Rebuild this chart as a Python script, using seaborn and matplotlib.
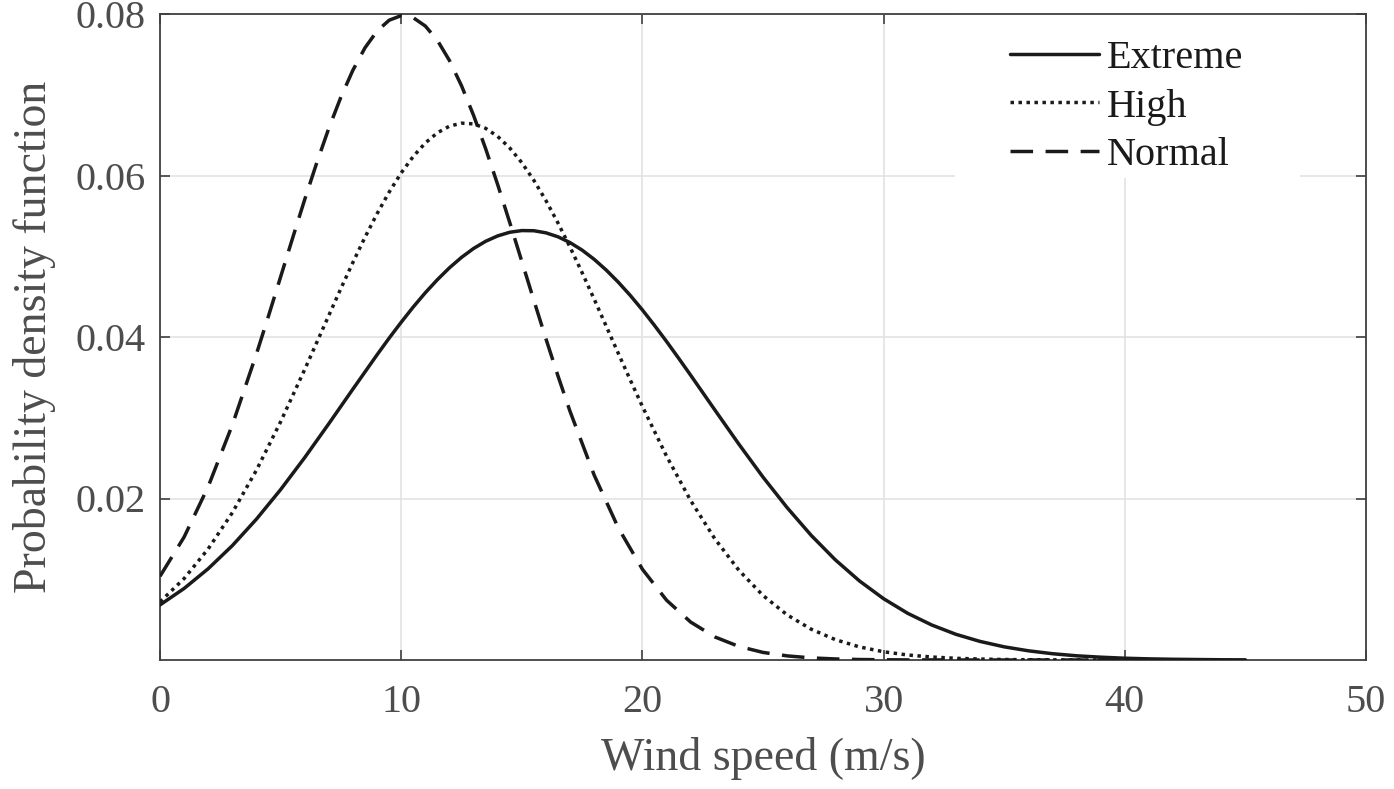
import pandas as pd
import seaborn as sns
import matplotlib.pyplot as plt
from matplotlib.patches import Rectangle

#################### Data ####################

wind_extreme = [0, 1, 2, 3, 4, 5, 6, 7, 8, 9,
                9.5, 10, 10.5, 11, 11.5, 12, 12.5, 13, 13.5, 14, 14.5, 15, 15.5,
                16, 16.5, 17, 17.5, 18, 18.5, 19, 19.5, 20, 20.5, 21, 21.5,
                22, 23, 24, 25, 26, 27, 28, 29, 30, 31, 32, 33, 34, 35, 36, 37,
                38, 39, 40, 41, 42, 43, 44, 45]
pdf_extreme = [0.00682, 0.00886, 0.01131, 0.01417, 0.01745, 0.02110, 0.02507, 0.02927,
               0.03356, 0.03780,
               0.03986, 0.04183, 0.04372, 0.04548, 0.04710, 0.04857, 0.04986, 0.05096,
               0.05185, 0.05252, 0.05297, 0.05318, 0.05316, 0.05290, 0.05241, 0.05169,
               0.05076, 0.04962, 0.04829, 0.04679, 0.04514, 0.04335, 0.04144, 0.03945,
               0.03738,
               0.03527, 0.03098, 0.02673, 0.02265, 0.01887, 0.01543, 0.01240, 0.00979,
               0.00759, 0.00578, 0.00433, 0.00318, 0.00230, 0.00163, 0.00114, 0.00078,
               0.00052, 0.00035, 0.00022, 0.00014, 0.00009, 0.00006, 0.00003, 0.00002]

wind_high = [0, 1, 2, 3, 4, 5, 6,
             6.5, 7, 7.5, 8, 8.5, 9, 9.5, 10, 10.5, 11, 11.5, 12, 12.5, 13, 13.5,
             14, 14.5, 15, 15.5, 16, 16.5, 17, 17.5, 18, 18.5, 19, 19.5,
             20, 21, 22, 23, 24, 25, 26, 27, 28, 29, 30, 31, 32, 33, 34, 35, 36,
             37, 38, 39, 40, 41, 42]
pdf_high = [0.00720, 0.01009, 0.01377, 0.01825, 0.02352, 0.02950, 0.03598,
            0.03933, 0.04268, 0.04601, 0.04925, 0.05236, 0.05527, 0.05794, 0.06032,
            0.06236, 0.06403, 0.06529, 0.06611, 0.06648, 0.06639, 0.06584, 0.06484,
            0.06341, 0.06159, 0.05940, 0.05690, 0.05412, 0.05113, 0.04797, 0.04469,
            0.04134, 0.03798, 0.03466,
            0.03140, 0.02525, 0.01975, 0.01502, 0.01111, 0.00799, 0.00559, 0.00381,
            0.00252, 0.00162, 0.00102, 0.00062, 0.00037, 0.00021, 0.00012, 0.00006,
            0.00003, 0.00002, 0.00001, 0.0, 0.0, 0.0, 0.0]

wind_normal = [0, 1, 2, 3, 4,
               4.5, 5, 5.5, 6, 6.5, 7, 7.5, 8, 8.5, 9, 9.5, 10, 10.5, 11, 11.5,
               12, 12.5, 13, 13.5, 14, 14.5, 15, 15.5, 16, 16.5,
               17, 18, 19, 20, 21, 22, 23, 24, 25, 26, 27, 28, 29, 30, 31, 32,
               33, 34, 35, 36, 37, 38, 39, 40, 41, 42]
pdf_normal = [0.01037, 0.01523, 0.02149, 0.02912, 0.03792,
              0.04262, 0.04744, 0.05227, 0.05703, 0.06158, 0.06586, 0.06971, 0.07306,
              0.07582, 0.07789, 0.07923, 0.07980, 0.07954, 0.07851, 0.07674, 0.07424,
              0.07112, 0.06745, 0.06333, 0.05887, 0.05418, 0.04937, 0.04454, 0.03978,
              0.03518,
              0.03079, 0.02290, 0.01637, 0.01124, 0.00741, 0.00470, 0.00286, 0.00168,
              0.00094, 0.00051, 0.00026, 0.00013, 0.00006, 0.00003, 0.00001, 0.00001,
              0.0, 0.0, 0.0, 0.0, 0.0, 0.0, 0.0, 0.0, 0.0, 0.0]

x_ticks = [0, 10, 20, 30, 40, 50]
y_ticks = [0.02, 0.04, 0.06, 0.08]
y_tick_labels = ['0.02', '0.04', '0.06', '0.08']

#################### Build long table ####################

df = pd.concat([
    pd.DataFrame({'wind': wind_extreme, 'pdf': pdf_extreme, 'level': 'Extreme'}),
    pd.DataFrame({'wind': wind_high, 'pdf': pdf_high, 'level': 'High'}),
    pd.DataFrame({'wind': wind_normal, 'pdf': pdf_normal, 'level': 'Normal'}),
], ignore_index=True)

#################### Style ####################

sns.set_theme(style='whitegrid')
plt.rcParams['font.family'] = ['Liberation Serif', 'DejaVu Serif']
plt.rcParams['axes.edgecolor'] = '#404040'
plt.rcParams['grid.color'] = '#e3e3e3'

fig, ax = plt.subplots(figsize=(13.94, 7.89), dpi=100)
fig.subplots_adjust(left=160 / 1394, right=1366 / 1394, bottom=129 / 789, top=775 / 789)

line_color = '#1a1a1a'
styles = {'Extreme': '-', 'High': (0, (1, 1.3)), 'Normal': (0, (6.5, 3.6))}

for level in ['Extreme', 'High', 'Normal']:
    sub = df[df['level'] == level]
    sns.lineplot(data=sub, x='wind', y='pdf', ax=ax, color=line_color,
                 linestyle=styles[level], linewidth=2.5, label=level,
                 dash_capstyle='butt', zorder=3)

#################### Axes ####################

ax.set_xlim(0, 50)
ax.set_ylim(0, 0.08)
ax.set_xticks(x_ticks)
ax.set_yticks(y_ticks)
ax.set_yticklabels(y_tick_labels)
ax.grid(True, color='#e3e3e3', linewidth=1.2)

for s in ax.spines.values():
    s.set_visible(True)
    s.set_color('#404040')
    s.set_linewidth(1.3)

ax.tick_params(axis='both', direction='in', length=7, width=1.2, color='#404040',
               labelsize=29, labelcolor='#4d4d4d', top=True, right=True,
               bottom=True, left=True)
ax.tick_params(axis='x', pad=17)
ax.tick_params(axis='y', pad=10)

ax.set_xlabel('Wind speed (m/s)', fontsize=33, color='#4d4d4d', labelpad=12)
ax.set_ylabel('Probability density function', fontsize=33, color='#4d4d4d', labelpad=14)

#################### Legend ####################

# white box behind legend hides the grid there
ax.add_patch(Rectangle((0.659, 0.746), 0.286, 0.254, transform=ax.transAxes,
                       facecolor='white', edgecolor='none', zorder=1))

leg = ax.legend(loc='upper left', bbox_to_anchor=(0.7048, 0.96), frameon=False,
                fontsize=29, handlelength=2.2, handletextpad=0.2, borderpad=0,
                borderaxespad=0, labelspacing=0.28)
for t in leg.get_texts():
    t.set_color('#1a1a1a')

plt.savefig('out.png', dpi=100)
